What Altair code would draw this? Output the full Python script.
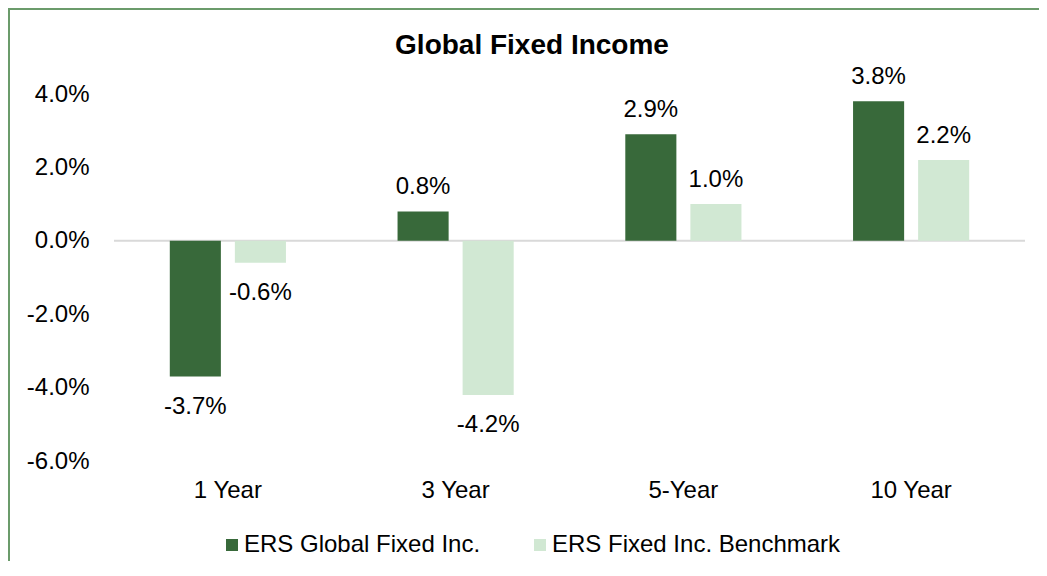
import altair as alt
import pandas as pd

periods = ["1 Year", "3 Year", "5-Year", "10 Year"]
series = ["ERS Global Fixed Inc.", "ERS Fixed Inc. Benchmark"]
fund_values = [-3.7, 0.8, 2.9, 3.8]
bench_values = [-0.6, -4.2, 1.0, 2.2]
y_ticks = [-6, -4, -2, 0, 2, 4]
title_text = "Global Fixed Income"

colors = ["#38693a", "#d1e8d3"]
FONT = "Liberation Sans"

rows = []
for p, v in zip(periods, fund_values):
    rows.append({"period": p, "series": series[0], "value": v})
for p, v in zip(periods, bench_values):
    rows.append({"period": p, "series": series[1], "value": v})
df = pd.DataFrame(rows)
df["label"] = df["value"].map(lambda v: f"{v:.1f}%")

W, H = 911, 367
PL, PT, PR, PB = 106, 86, 14, 100

x_enc = alt.X("period:N", sort=periods, title=None,
              scale=alt.Scale(paddingInner=0.49, paddingOuter=0.245),
              axis=alt.Axis(labelAngle=0, labelFontSize=24, labelFont=FONT,
                            labelColor="#000000", labelPadding=17, ticks=False,
                            domain=False, grid=False))
xoff = alt.XOffset("series:N", sort=series,
                   scale=alt.Scale(paddingInner=0.215, paddingOuter=0))
y_scale = alt.Scale(domain=[-6, 4], nice=False)

base = alt.Chart(df)

bars = base.mark_bar().encode(
    x=x_enc,
    xOffset=xoff,
    y=alt.Y("value:Q", scale=y_scale, title=None,
            axis=alt.Axis(values=y_ticks,
                          labelExpr="(datum.value < 0 ? '-' : '') + format(abs(datum.value), '.1f') + '%'",
                          labelFontSize=24, labelFont=FONT, labelColor="#000000",
                          labelPadding=25, ticks=False, domain=False, grid=False)),
    color=alt.Color("series:N", sort=series,
                    scale=alt.Scale(domain=series, range=colors),
                    legend=alt.Legend(title=None, orient="none", direction="horizontal",
                                      legendX=106, legendY=439,
                                      symbolType="square", symbolSize=144,
                                      symbolStrokeWidth=0, labelFontSize=24,
                                      labelFont=FONT, labelColor="#000000",
                                      labelLimit=1000,
                                      labelOffset=0, columnPadding=47, padding=0)),
)

zero = alt.Chart(pd.DataFrame({"z": [0]})).mark_rule(color="#d9d9d9", strokeWidth=2).encode(
    y=alt.Y("z:Q", scale=y_scale)
)

pos_labels = base.transform_filter("datum.value >= 0").mark_text(
    baseline="alphabetic", dy=-17, fontSize=24, font=FONT, color="#000000"
).encode(x=alt.X("period:N", sort=periods), xOffset=xoff,
         y=alt.Y("value:Q", scale=y_scale), text="label:N")

neg_labels = base.transform_filter("datum.value < 0").mark_text(
    baseline="top", dy=18, fontSize=24, font=FONT, color="#000000"
).encode(x=alt.X("period:N", sort=periods), xOffset=xoff,
         y=alt.Y("value:Q", scale=y_scale), text="label:N")

title = alt.Chart(pd.DataFrame({"t": [title_text]})).mark_text(
    fontSize=28, fontWeight="bold", font=FONT, color="#000000", baseline="middle", align="center"
).encode(x=alt.value(418), y=alt.value(-48), text="t:N")

border_top = alt.Chart(pd.DataFrame({"b": [0]})).mark_rule(color="#6b9b6b", strokeWidth=2).encode(
    x=alt.value(-PL), x2=alt.value(W + PR), y=alt.value(-PT + 1)
)
border_left = alt.Chart(pd.DataFrame({"b": [0]})).mark_rule(color="#6b9b6b", strokeWidth=2).encode(
    x=alt.value(-PL + 1), y=alt.value(-PT), y2=alt.value(H + PB)
)

chart = alt.layer(zero, bars, pos_labels, neg_labels, title, border_top, border_left).properties(
    width=W, height=H,
    autosize=alt.AutoSizeParams(type="none"),
    padding={"left": PL, "top": PT, "right": PR, "bottom": PB},
    background="#ffffff",
).configure_view(stroke=None)

chart.save("out.html", embed_options={"renderer": "svg", "actions": False})
